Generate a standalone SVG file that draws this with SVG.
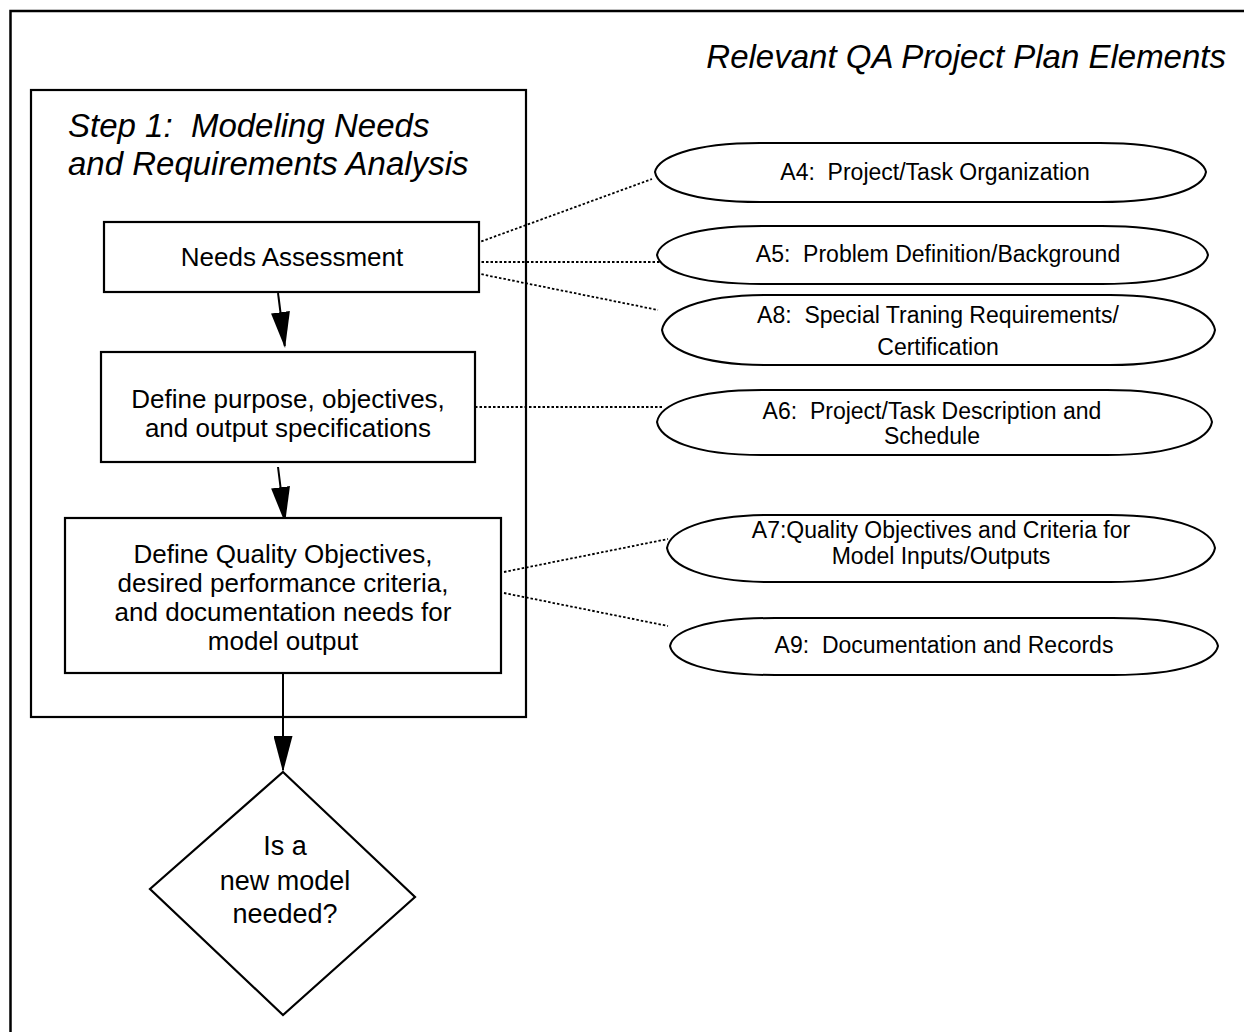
<svg xmlns="http://www.w3.org/2000/svg" width="1244" height="1032" viewBox="0 0 1244 1032">
<style>
  text{white-space:pre}
  .box{fill:#fff;stroke:#000;stroke-width:2.2}
  .frame{fill:none;stroke:#000;stroke-width:2.5}
  .oval{fill:#fff;stroke:#000;stroke-width:2}
  .t{font-family:"Liberation Sans",Arial,sans-serif;fill:#000;text-anchor:middle}
  .bt{font-size:26px}
  .dt{font-size:27px}
  .ot{font-size:23px}
  .it{font-family:"Liberation Sans",Arial,sans-serif;font-style:italic;fill:#000;font-size:33px}
  .flow{stroke:#000;stroke-width:2;fill:none}
  .dot{stroke:#000;stroke-width:1.8;fill:none;stroke-dasharray:2.5 2}
</style>
<defs>
  <marker id="ah" markerUnits="userSpaceOnUse" viewBox="0 0 36 19" refX="34" refY="9.5" markerWidth="36" markerHeight="19" orient="auto">
    <path d="M0,0 L36,9.5 L0,19 Z" fill="#000"/>
  </marker>
</defs>
<rect width="1244" height="1032" fill="#fff"/>
<g id="frame">
  <rect class="frame" x="10.5" y="11" width="1300" height="1100"/>
  <text class="it" x="1226" y="68" text-anchor="end">Relevant QA Project Plan Elements</text>
</g>
<g id="step1">
  <rect class="box" x="31" y="90" width="495" height="627"/>
  <text class="it" x="68" y="137">Step 1:  Modeling Needs</text>
  <text class="it" x="68" y="175">and Requirements Analysis</text>
</g>
<g id="connectors">
  <line class="flow" x1="278" y1="293" x2="284.8" y2="346" marker-end="url(#ah)"/>
  <line class="flow" x1="278" y1="467" x2="284.8" y2="521" marker-end="url(#ah)"/>
  <line class="flow" x1="283" y1="673" x2="283" y2="770" marker-end="url(#ah)"/>
  <path class="dot" d="M477,243 L652,179"/>
  <path class="dot" d="M477,262 L663,262"/>
  <path class="dot" d="M477,273 L490,276 L658,310"/>
  <path class="dot" d="M475,407 L663,407"/>
  <path class="dot" d="M504,572 L668,539"/>
  <path class="dot" d="M504,593 L668,626"/>
</g>
<g id="needs">
  <rect class="box" x="104" y="222" width="375" height="70"/>
  <text class="t bt" x="292" y="266">Needs Assessment</text>
</g>
<g id="purpose">
  <rect class="box" x="101" y="352" width="374" height="110"/>
  <text class="t bt" x="288" y="408">Define purpose, objectives,</text>
  <text class="t bt" x="288" y="437">and output specifications</text>
</g>
<g id="quality">
  <rect class="box" x="65" y="518" width="436" height="155"/>
  <text class="t bt" x="283" y="563">Define Quality Objectives,</text>
  <text class="t bt" x="283" y="592">desired performance criteria,</text>
  <text class="t bt" x="283" y="621">and documentation needs for</text>
  <text class="t bt" x="283" y="650">model output</text>
</g>
<g id="decision">
  <path class="box" d="M283,772 L415,897 L283,1015 L150,889 Z" stroke-width="1.8"/>
  <text class="t dt" x="285" y="855">Is a</text>
  <text class="t dt" x="285" y="890">new model</text>
  <text class="t dt" x="285" y="923">needed?</text>
</g>
<g id="a4">
  <path class="oval" d="M655,172 C658,158 690,143 760,143 L1100,143 C1170,143 1203,158 1206,172 C1203,188 1170,202 1100,202 L760,202 C690,202 658,188 655,172 Z"/>
  <text class="t ot" x="935" y="180">A4:  Project/Task Organization</text>
</g>
<g id="a5">
  <path class="oval" d="M657,255 C660,240 692,226 762,226 L1102,226 C1172,226 1205,240 1208,255 C1205,270 1172,284 1102,284 L762,284 C692,284 660,270 657,255 Z"/>
  <text class="t ot" x="938" y="262">A5:  Problem Definition/Background</text>
</g>
<g id="a8">
  <path class="oval" d="M662,330 C665,312 697,295 767,295 L1110,295 C1180,295 1212,312 1215,330 C1212,348 1180,365 1110,365 L767,365 C697,365 665,348 662,330 Z"/>
  <text class="t ot" x="938" y="323">A8:  Special Traning Requirements/</text>
  <text class="t ot" x="938" y="355">Certification</text>
</g>
<g id="a6">
  <path class="oval" d="M657,422 C660,405 692,390 762,390 L1107,390 C1177,390 1209,405 1212,422 C1209,439 1177,455 1107,455 L762,455 C692,455 660,439 657,422 Z"/>
  <text class="t ot" x="932" y="419">A6:  Project/Task Description and</text>
  <text class="t ot" x="932" y="444">Schedule</text>
</g>
<g id="a7">
  <path class="oval" d="M667,548 C670,531 702,515 772,515 L1110,515 C1180,515 1212,531 1215,548 C1212,565 1180,582 1110,582 L772,582 C702,582 670,565 667,548 Z"/>
  <text class="t ot" x="941" y="538">A7:Quality Objectives and Criteria for</text>
  <text class="t ot" x="941" y="564">Model Inputs/Outputs</text>
</g>
<g id="a9">
  <path class="oval" d="M670,646 C673,631 705,618 775,618 L1113,618 C1183,618 1215,631 1218,646 C1215,661 1183,675 1113,675 L775,675 C705,675 673,661 670,646 Z"/>
  <text class="t ot" x="944" y="653">A9:  Documentation and Records</text>
</g>
</svg>
